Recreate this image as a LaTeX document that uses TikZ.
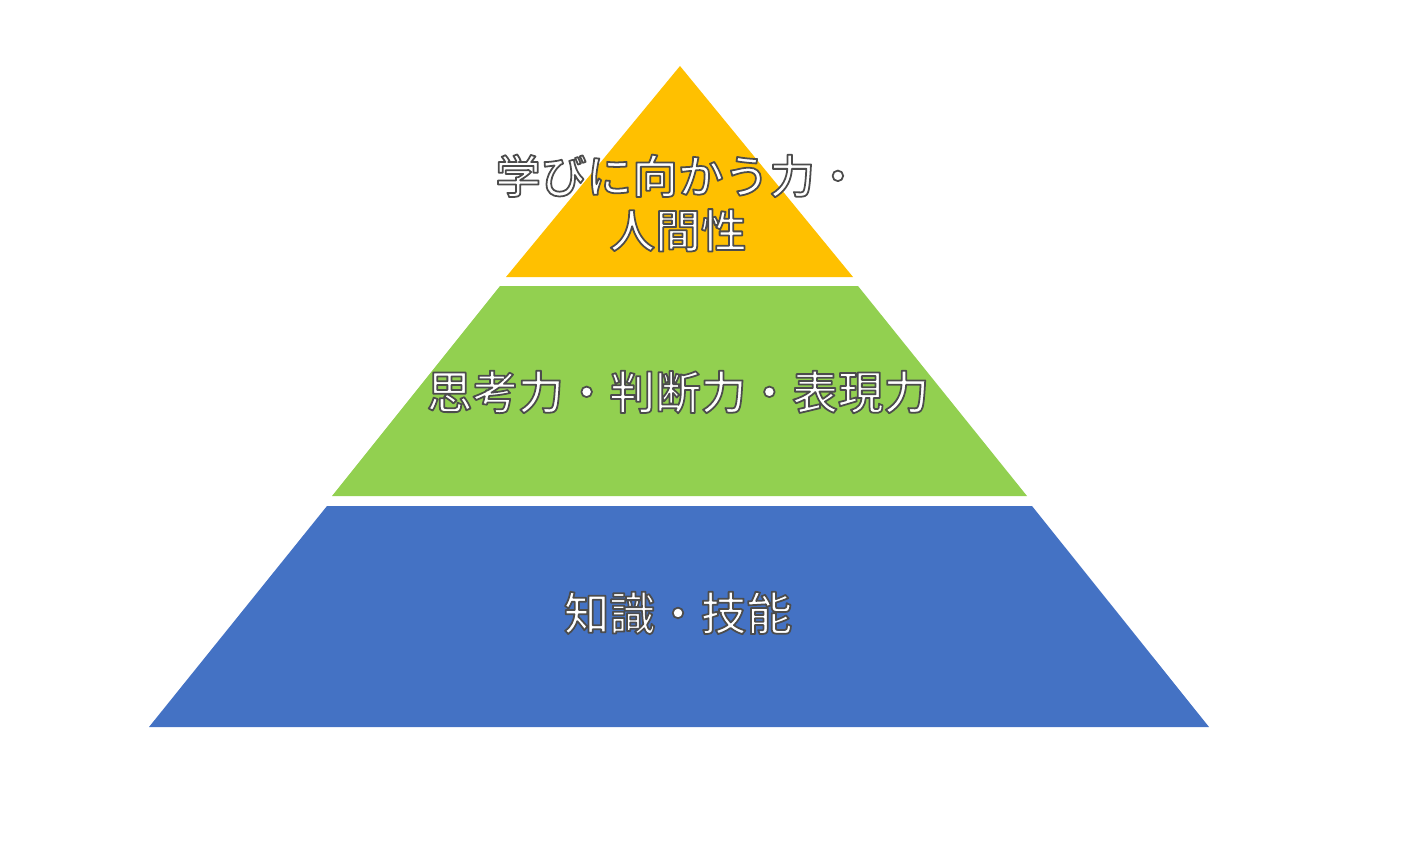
\documentclass[tikz,border=0pt]{standalone}
\usepackage{fontspec}
\setmainfont{Noto Sans CJK JP}[UprightFont=* Medium]
\definecolor{tierTop}{HTML}{FFC000}
\definecolor{tierMid}{HTML}{92D050}
\definecolor{tierLow}{HTML}{4472C4}
% white letters with a thin dark edge (fill and stroke text mode)
\newcommand{\edged}[1]{\special{pdf:code 2 Tr 1 w 0.3 G}#1\special{pdf:code 0 Tr}}
\begin{document}
\begin{tikzpicture}[x=0.02cm,y=-0.02cm,line join=round]
  \tikzset{
    tier/.style={draw=none},
    tiertext/.style={text=white,font=\fontsize{26}{31}\selectfont,align=center,inner sep=0pt}
  }
  \useasboundingbox (0,0) rectangle (1412,841);
  % Three stacked tiers separated by thin white gaps.
  \fill[tier,tierTop] (680,66) -- (853,277) -- (506,277) -- cycle;
  \fill[tier,tierMid] (500,286) -- (858,286) -- (1027,496) -- (332,496) -- cycle;
  \fill[tier,tierLow] (327,506) -- (1032,506) -- (1209,727) -- (149,727) -- cycle;
  \node[tiertext] (top) at (678,203) {\edged{学びに向かう力・}\\\edged{人間性}};
  \node[tiertext] (mid) at (678,392) {\edged{思考力・判断力・表現力}};
  \node[tiertext] (low) at (678,613) {\edged{知識・技能}};
\end{tikzpicture}
\end{document}
